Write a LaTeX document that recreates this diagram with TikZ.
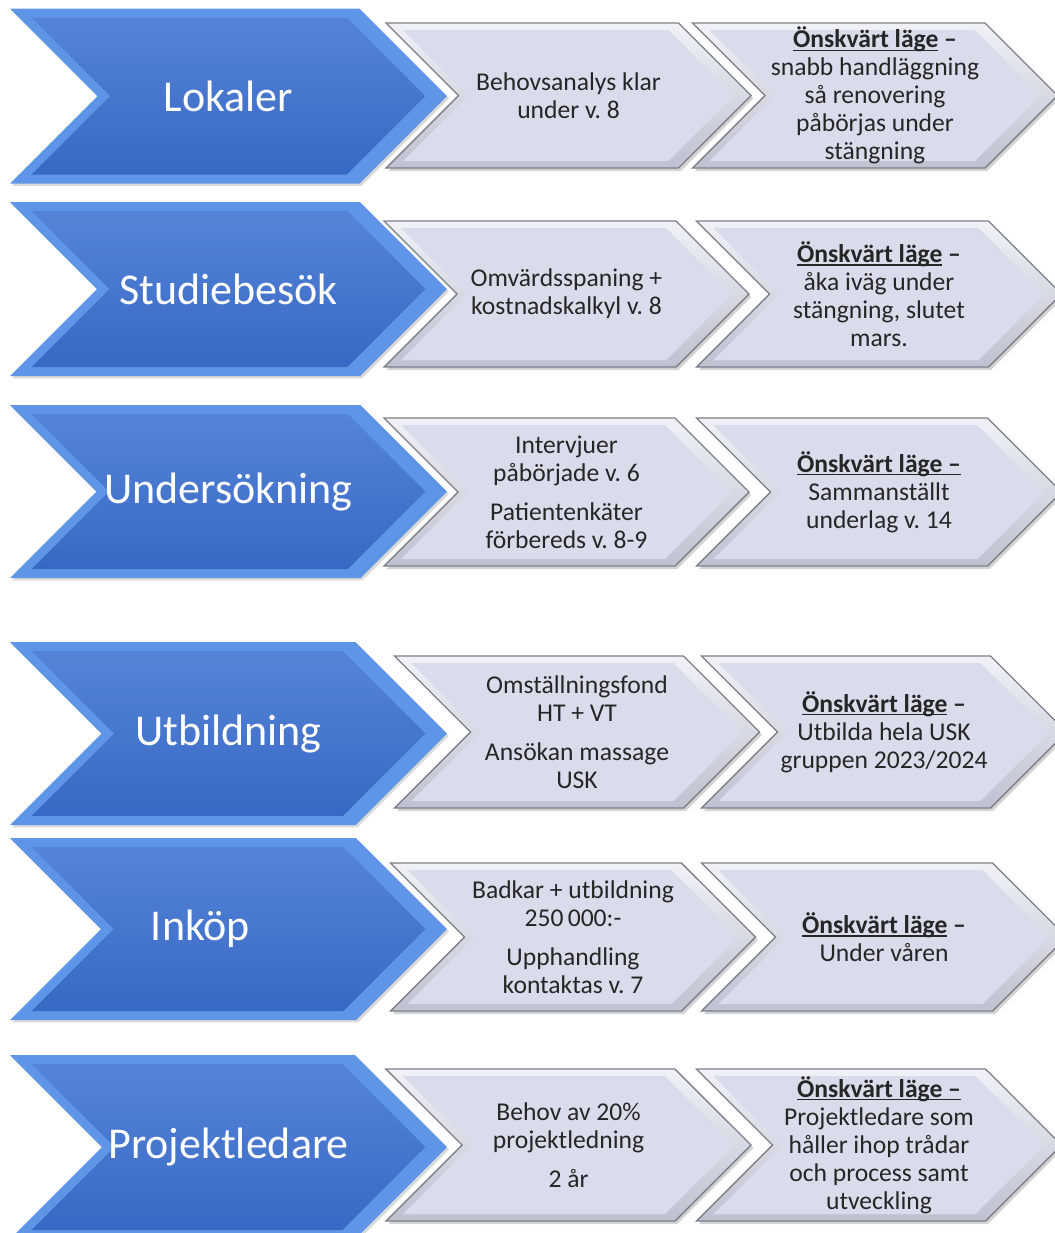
\documentclass[tikz,border=0pt]{standalone}
\usepackage{fontspec}
\setmainfont{Carlito}
\usetikzlibrary{shapes.symbols,shadows}

\definecolor{bluebevel}{HTML}{5F95E6}
\definecolor{bluetop}{HTML}{5584D7}
\definecolor{bluebot}{HTML}{3868C5}
\definecolor{grayline}{HTML}{7D7F89}
\definecolor{graytop}{HTML}{F0F2F8}
\definecolor{graybot}{HTML}{BEC1CF}
\definecolor{grayface}{HTML}{D9DCEB}
\definecolor{textdark}{HTML}{262626}

% underline close to the baseline
\newcommand{\ulbase}[1]{\setbox0\hbox{#1}\rlap{\rule[-1.6pt]{\wd0}{0.6pt}}\box0\relax}
\newcommand{\onsk}{\ulbase{\textbf{Önskvärt läge}} \textbf{–}}
\newcommand{\onskall}{\ulbase{\textbf{Önskvärt läge –}}}

\begin{document}
\frenchspacing
\begin{tikzpicture}[x=0.5pt,y=-0.5pt,
    chev/.style={shape=signal, signal from=west, signal to=east,
      signal pointer angle=90, inner sep=0pt, outer sep=0pt},
    blueout/.style={chev, fill=bluebevel, minimum width=218.5pt,
      drop shadow={shadow xshift=1pt, shadow yshift=-1.2pt, opacity=0.3}},
    bluein/.style={chev, top color=bluetop, bottom color=bluebot,
      minimum width=196.8pt},
    grayout/.style={chev, top color=graytop, bottom color=graybot,
      draw=grayline, line width=0.7pt, minimum width=182.5pt,
      drop shadow={shadow xshift=1.2pt, shadow yshift=-1.5pt, opacity=0.35}},
    grayin/.style={chev, fill=grayface, minimum width=165.5pt},
    bluetext/.style={text=white, font=\fontsize{22}{26}\selectfont},
    graytext/.style={align=center, text=textdark,
      font=\fontsize{12.8}{14}\selectfont}]
  \path[use as bounding box, clip] (0,0) rectangle (1055,1233);

  % Lokaler
  \node[blueout, minimum height=87.5pt] (lok) at (228.5,96) {};
  \node[bluein, minimum height=78.5pt, label={[bluetext]center:Lokaler}] at (lok) {};
  \node[grayout, minimum height=72.5pt] (lok-nu) at (568.5,95.5) {};
  \node[grayin, minimum height=65.5pt, label={[graytext]center:{Behovsanalys klar\\under v. 8}}] at (lok-nu) {};
  \node[grayout, minimum height=72.5pt] (lok-mal) at (875,95.5) {};
  \node[grayin, minimum height=65.5pt, label={[graytext]center:{\onsk\\snabb handläggning\\så renovering\\påbörjas under\\stängning}}] at (lok-mal) {};

  % Studiebesök
  \node[blueout, minimum height=87pt] (stud) at (228.5,289) {};
  \node[bluein, minimum height=78pt, label={[bluetext]center:Studiebesök}] at (stud) {};
  \node[grayout, minimum height=73pt] (stud-nu) at (566.5,294) {};
  \node[grayin, minimum height=66pt, label={[graytext]center:{Omvärdsspaning +\\kostnadskalkyl v. 8}}] at (stud-nu) {};
  \node[grayout, minimum height=73pt] (stud-mal) at (879,294) {};
  \node[grayin, minimum height=66pt, label={[graytext]center:{\onsk\\åka iväg under\\stängning, slutet\\mars.}}] at (stud-mal) {};

  % Undersökning
  \node[blueout, minimum height=86.5pt] (unders) at (228.5,491.5) {};
  \node[bluein, minimum height=77.5pt, label={[bluetext]center:Undersökning}] at (unders) {};
  \node[grayout, minimum height=74pt] (unders-nu) at (566.5,492) {};
  \node[grayin, minimum height=67pt, label={[graytext]center:{Intervjuer\\påbörjade v. 6\\[5.5pt]Patientenkäter\\förbereds v. 8-9}}] at (unders-nu) {};
  \node[grayout, minimum height=74pt] (unders-mal) at (879,492) {};
  \node[grayin, minimum height=67pt, label={[graytext]center:{\onskall\\Sammanställt\\underlag v. 14}}] at (unders-mal) {};

  % Utbildning
  \node[blueout, minimum height=91.5pt] (utb) at (228.5,733.5) {};
  \node[bluein, minimum height=82.5pt, label={[bluetext]center:Utbildning}] at (utb) {};
  \node[grayout, minimum height=76pt] (utb-nu) at (577,732) {};
  \node[grayin, minimum height=69pt, label={[graytext]center:{Omställningsfond\\HT + VT\\[5.5pt]Ansökan massage\\USK}}] at (utb-nu) {};
  \node[grayout, minimum height=76pt] (utb-mal) at (884,732) {};
  \node[grayin, minimum height=69pt, label={[graytext]center:{\onsk\\Utbilda hela USK\\gruppen 2023/2024}}] at (utb-mal) {};

  % Inköp
  \node[blueout, minimum height=91pt] (ink) at (228.5,929) {};
  \node[bluein, minimum height=82pt, label={[bluetext, xshift=-14pt]center:Inköp}] at (ink) {};
  \node[grayout, minimum height=74pt] (ink-nu) at (573,937) {};
  \node[grayin, minimum height=67pt, label={[graytext]center:{Badkar + utbildning\\250\,000:-\\[5.5pt]Upphandling\\kontaktas v. 7}}] at (ink-nu) {};
  \node[grayout, minimum height=74pt] (ink-mal) at (884,937) {};
  \node[grayin, minimum height=67pt, label={[graytext]center:{\onsk\\Under våren}}] at (ink-mal) {};

  % Projektledare
  \node[blueout, minimum height=92pt] (proj) at (228.5,1147) {};
  \node[bluein, minimum height=83pt, label={[bluetext]center:Projektledare}] at (proj) {};
  \node[grayout, minimum height=76pt] (proj-nu) at (568.5,1145) {};
  \node[grayin, minimum height=69pt, label={[graytext]center:{Behov av 20\%\\projektledning\\[5.5pt]2 år}}] at (proj-nu) {};
  \node[grayout, minimum height=76pt] (proj-mal) at (879,1145) {};
  \node[grayin, minimum height=69pt, label={[graytext]center:{\onskall\\Projektledare som\\håller ihop trådar\\och process samt\\utveckling}}] at (proj-mal) {};
\end{tikzpicture}
\end{document}
